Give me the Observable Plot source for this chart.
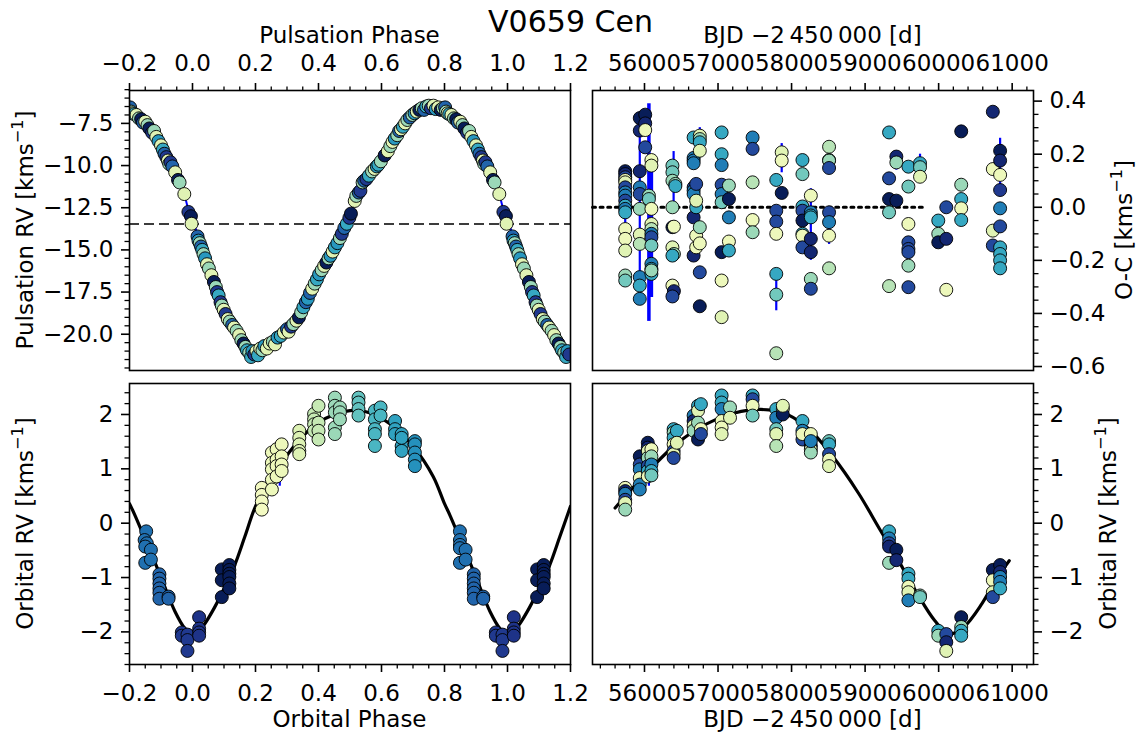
<!DOCTYPE html>
<html><head><meta charset="utf-8">
<script src="https://cdn.jsdelivr.net/npm/d3@7"></script>
<script src="https://cdn.jsdelivr.net/npm/@observablehq/plot@0.6"></script>
<style>
body{margin:0;background:#fff;}
#wrap{position:relative;width:1141px;height:732px;overflow:hidden;background:#fff;}
</style></head><body><div id="wrap"></div>
<script>
// ---------- tick labels ----------
const phaseTicks = [-0.2, 0, 0.2, 0.4, 0.6, 0.8, 1.0, 1.2];
const pulsRVTicks = [-20, -17.5, -15, -12.5, -10, -7.5];
const bjdTicks = [56000, 57000, 58000, 59000, 60000, 61000];
const ocTicks = [-0.6, -0.4, -0.2, 0, 0.2, 0.4];
const orbRVTicks = [-2, -1, 0, 1, 2];

// ---------- texts ----------
const titleText = "V0659 Cen";
const topLeftLabel = "Pulsation Phase";
const bottomLeftLabel = "Orbital Phase";
const bjdLabel = "BJD \u22122\u2009450\u2009000 [d]";

// ---------- top-left: pulsation phase vs pulsation RV [phase, RV, colour value] ----------
const pulsPoints = [
[-0.198,-6.55,.68],[-0.195,-6.8,.3],[-0.19,-6.9,.15],[-0.185,-6.95,.5],[-0.178,-7.0,.15],[-0.17,-7.2,.3],[-0.163,-7.25,.95],[-0.157,-7.45,.68],[-0.15,-7.4,.15],[-0.143,-7.6,.3],[-0.137,-7.8,.95],[-0.128,-8.05,.8],[-0.122,-7.95,.3],[-0.115,-8.3,.15],[-0.108,-8.55,.55],[-0.1,-8.8,.15],[-0.094,-9.05,.5],[-0.089,-9.3,.68],[-0.083,-9.5,.8],[-0.078,-9.7,.15],[-0.074,-9.9,.3],[-0.07,-9.8,.8],[-0.064,-10.05,.68],[-0.055,-10.4,.15],[-0.046,-10.85,.95],[-0.041,-11.0,.3],[-0.026,-11.69,.15],[-0.013,-12.75,.8],[-0.005,-13.0,.95],[-0.003,-13.45,.15],
[0.016,-14.2,.68],[0.019,-14.45,.55],[0.023,-14.6,.3],[0.027,-14.8,.68],[0.031,-15.0,.5],[0.035,-15.25,.3],[0.04,-15.5,.55],[0.046,-15.85,.15],[0.052,-16.1,.3],[0.06,-16.5,.15],[0.068,-16.9,.95],[0.074,-17.2,.3],[0.078,-17.5,.8],[0.083,-17.7,.5],[0.089,-18.1,.8],[0.093,-18.3,.3],[0.099,-18.55,.15],[0.105,-18.8,.8],[0.112,-19.1,.15],[0.118,-19.25,.3],[0.126,-19.45,.68],[0.132,-19.6,.15],[0.14,-19.8,.3],[0.148,-20.05,.15],[0.155,-20.35,.3],[0.162,-20.55,.95],[0.168,-20.75,.3],[0.173,-20.95,.5],[0.18,-21.1,.3],[0.186,-21.35,.5],[0.19,-21.0,.55],[0.196,-21.2,.8],[0.203,-21.0,.15],[0.208,-21.25,.5],
[0.215,-20.85,.15],[0.222,-20.95,.3],[0.228,-20.7,.55],[0.236,-20.85,.15],[0.245,-20.55,.15],[0.255,-20.45,.3],[0.262,-20.6,.15],[0.27,-20.2,.55],[0.28,-20.1,.5],[0.29,-19.9,.15],[0.3,-19.7,.68],[0.305,-19.85,.15],[0.313,-19.55,.8],[0.32,-19.4,.3],[0.33,-19.2,.15],[0.338,-19.0,.95],[0.345,-18.7,.3],[0.352,-18.4,.5],[0.36,-18.1,.68],[0.366,-17.9,.55],[0.373,-17.55,.68],[0.38,-17.3,.15],[0.388,-17.0,.3],[0.395,-16.75,.5],[0.402,-16.45,.55],[0.41,-16.2,.3],[0.418,-15.95,.15],[0.425,-15.75,.95],[0.432,-15.5,.3],[0.438,-15.35,.55],[0.445,-15.1,.15],[0.452,-14.85,.5],[0.46,-14.6,.55],[0.468,-14.3,.3],[0.474,-14.05,.8],[0.482,-13.7,.68],[0.49,-13.45,.5],[0.498,-13.1,.8],[0.503,-12.85,.95],
[0.515,-12.1,.15],[0.52,-11.8,.3],[0.528,-11.6,.68],[0.533,-11.5,.8],[0.54,-11.0,.3],[0.545,-10.9,.68],[0.552,-10.8,.8],[0.56,-10.6,.5],[0.57,-10.35,.3],[0.578,-10.2,.15],[0.585,-10.05,.55],[0.59,-9.95,.5],[0.598,-9.75,.3],[0.61,-9.4,.95],[0.62,-9.15,.15],[0.628,-8.85,.3],[0.635,-8.6,.15],[0.642,-8.4,.55],[0.65,-8.2,.3],[0.656,-7.95,.68],[0.662,-7.85,.15],[0.668,-7.7,.5],[0.675,-7.5,.15],[0.682,-7.3,.3],[0.69,-7.15,.68],[0.698,-7.0,.3],[0.705,-6.9,.55],[0.712,-6.8,.15],[0.72,-6.7,.95],[0.728,-6.6,.3],[0.735,-6.7,.68],[0.742,-6.5,.5],[0.75,-6.45,.3],[0.757,-6.6,.8],[0.765,-6.45,.15],[0.772,-6.65,.55],[0.78,-6.55,.15],[0.788,-6.7,.95],[0.795,-6.6,.3],
[0.802,-6.55,.68],[0.805,-6.8,.3],[0.81,-6.9,.15],[0.815,-6.95,.5],[0.822,-7.0,.15],[0.83,-7.2,.3],[0.837,-7.25,.95],[0.843,-7.45,.68],[0.85,-7.4,.15],[0.857,-7.6,.3],[0.863,-7.8,.95],[0.872,-8.05,.8],[0.878,-7.95,.3],[0.885,-8.3,.15],[0.892,-8.55,.55],[0.9,-8.8,.15],[0.906,-9.05,.5],[0.911,-9.3,.68],[0.917,-9.5,.8],[0.922,-9.7,.15],[0.926,-9.9,.3],[0.93,-9.8,.8],[0.936,-10.05,.68],[0.945,-10.4,.15],[0.954,-10.85,.95],[0.959,-11.0,.3],[0.974,-11.69,.15],[0.987,-12.75,.8],[0.995,-13.0,.95],[0.997,-13.45,.15],
[1.016,-14.2,.68],[1.019,-14.45,.55],[1.023,-14.6,.3],[1.027,-14.8,.68],[1.031,-15.0,.5],[1.035,-15.25,.3],[1.04,-15.5,.55],[1.046,-15.85,.15],[1.052,-16.1,.3],[1.06,-16.5,.15],[1.068,-16.9,.95],[1.074,-17.2,.3],[1.078,-17.5,.8],[1.083,-17.7,.5],[1.089,-18.1,.8],[1.093,-18.3,.3],[1.099,-18.55,.15],[1.105,-18.8,.8],[1.112,-19.1,.15],[1.118,-19.25,.3],[1.126,-19.45,.68],[1.132,-19.6,.15],[1.14,-19.8,.3],[1.148,-20.05,.15],[1.155,-20.35,.3],[1.162,-20.55,.95],[1.168,-20.75,.3],[1.173,-20.95,.5],[1.18,-21.1,.3],[1.186,-21.35,.5],[1.19,-21.0,.55],[1.196,-21.2,.8]
];
const pulsModel = [[-0.2,-6.55],[-0.177,-6.9],[-0.15,-7.3],[-0.118,-7.85],[-0.103,-8.5],[-0.082,-9.38],[-0.066,-9.97],[-0.039,-10.96],[-0.026,-11.69],[-0.013,-12.6],[0.001,-13.2],[0.019,-14.3],[0.035,-15.2],[0.047,-15.9],[0.069,-16.95],[0.082,-17.68],[0.093,-18.2],[0.114,-19.06],[0.138,-19.71],[0.162,-20.4],[0.178,-20.84],[0.199,-21.05],[0.227,-20.8],[0.257,-20.45],[0.289,-19.95],[0.315,-19.5],[0.341,-18.9],[0.373,-17.58],[0.405,-16.39],[0.437,-15.4],[0.46,-14.61],[0.474,-14.02],[0.5,-13.03],[0.521,-11.9],[0.553,-10.86],[0.585,-10.07],[0.611,-9.38],[0.637,-8.6],[0.664,-7.8],[0.69,-7.15],[0.722,-6.71],[0.749,-6.5],[0.786,-6.61],[0.823,-6.9],[0.85,-7.3],[0.882,-7.85],[0.897,-8.5],[0.918,-9.38],[0.934,-9.97],[0.961,-10.96],[0.974,-11.69],[0.987,-12.6],[1.001,-13.2],[1.019,-14.3],[1.035,-15.2],[1.047,-15.9],[1.069,-16.95],[1.082,-17.68],[1.093,-18.2],[1.114,-19.06],[1.138,-19.71],[1.162,-20.4],[1.178,-20.84],[1.2,-21.05]];
const pulsMean = [-13.47];

// ---------- top-right: O-C vs BJD [BJD, O-C, colour value] ----------
const ocPoints = [
[55738,0.136,.95],[55738,0.125,.87],[55738,0.113,.75],[55738,0.103,.1],[55738,0.094,.15],[55738,0.075,.75],[55738,0.056,.62],[55738,0.044,.62],[55738,0.025,.75],[55738,0.006,.5],[55738,-0.006,.62],[55738,-0.019,.5],[55738,-0.082,.1],[55738,-0.119,.1],[55738,-0.163,.15],[55738,-0.257,.3],[55738,-0.276,.37],
[55936,0.336,.95],[55936,0.289,.87],[55936,0.136,.87],[55936,0.075,.62],[55936,0.05,.75],[55936,-0.006,.3],[55936,-0.103,.15],[55936,-0.138,.25],[55936,-0.263,.62],[55936,-0.295,.5],[55936,-0.345,.62],
[56010,0.349,.95],[56010,0.316,.87],[56010,0.291,.1],[56010,0.226,.75],[56060,0.044,.3],[56060,0.031,.37],
[56094,0.178,.1],[56094,0.157,.15],[56094,-0.006,.1],[56094,-0.063,.15],[56094,-0.082,.25],[56094,-0.1,.62],[56094,-0.113,.75],[56094,-0.144,.37],[56094,-0.213,.62],[56094,-0.232,.5],[56094,-0.251,.5],[56094,-0.238,.3],
[56380,0.157,.37],[56380,0.132,.37],[56380,0.1,.3],[56420,0.088,.3],[56420,0.08,.5],[56380,0.0,.3],[56380,-0.075,.95],[56400,-0.073,.1],[56380,-0.151,.15],[56400,-0.176,.3],[56380,-0.182,.5],[56380,-0.295,.1],[56400,-0.316,.87],[56380,-0.336,.75],
[56668,0.263,.5],[56668,0.186,.62],[56668,0.176,.62],[56668,0.166,.62],[56668,0.075,.75],[56668,0.063,.62],[56668,0.05,.62],[56668,-0.038,.87],[56668,-0.182,.87],
[56703,0.088,.75],[56703,0.0,.5],[56703,0.025,.15],[56703,-0.151,.1],[56703,-0.107,.1],
[56752,0.27,.15],[56752,0.257,.3],[56752,0.245,.5],[56752,0.213,.15],[56752,-0.075,.3],[56752,-0.136,.1],[56752,-0.245,.75],[56752,-0.373,.95],
[57049,0.282,.5],[57049,0.2,.5],[57049,0.159,.62],[57049,0.085,.75],[57049,0.05,.62],[57049,0.019,.37],[57049,-0.169,.95],[57049,-0.276,.1],[57049,-0.414,.15],
[57148,0.082,.3],[57148,0.031,.95],[57148,-0.038,.62],[57148,-0.129,.1],[57148,-0.163,.5],
[57470,0.263,.62],[57470,0.22,.75],[57470,0.094,.25],[57470,-0.048,.1],[57470,-0.094,.3],
[57792,0.103,.5],[57792,-0.013,.75],[57792,-0.054,.75],[57792,-0.1,.1],[57792,-0.251,.5],[57792,-0.329,.37],[57792,-0.55,.25],
[57866,0.207,.15],[57866,0.176,.1],[57866,0.054,.95],
[58148,0.178,.5],[58148,0.125,.37],[58148,0.003,.5],[58148,-0.013,.75],[58148,-0.05,.95],[58148,-0.1,.5],[58148,-0.107,.1],[58148,-0.151,.75],
[58262,0.044,.1],[58262,-0.019,.62],[58262,-0.031,.5],[58262,-0.038,.5],[58262,-0.119,.87],[58262,-0.169,.87],[58262,-0.27,.3],[58262,-0.307,.75],
[58510,0.228,.25],[58510,0.178,.37],[58510,0.176,.3],[58510,0.148,.75],[58510,-0.019,.75],[58510,-0.056,.62],[58510,-0.107,.1],[58510,-0.23,.25],
[59326,0.282,.5],[59326,0.109,.75],[59326,0.031,.95],[59326,-0.019,.37],[59326,-0.297,.25],
[59425,0.191,.87],[59425,0.169,.3],[59425,0.025,.95],
[59589,0.153,.5],[59589,0.078,.37],[59589,-0.063,.1],[59589,-0.132,.75],[59589,-0.157,.75],[59589,-0.169,.75],[59589,-0.22,.3],[59589,-0.301,.75],
[59747,0.166,.5],[59747,0.151,.37],[59747,0.115,.15],
[59995,-0.05,.5],[59995,-0.1,.3],[59995,-0.132,.95],
[60104,0.0,.75],[60104,-0.119,.87],[60104,-0.311,.1],
[60307,0.286,.95],[60307,0.085,.3],[60307,0.031,.5],[60307,-0.004,.1],[60307,-0.048,.5],
[60737,0.36,.87],[60737,0.144,.1],[60737,-0.088,.15],[60737,-0.144,.75],
[60836,0.213,.95],[60836,0.176,.87],[60836,0.122,.1],[60836,0.065,.8],[60836,-0.004,.62],[60836,-0.072,.75],[60836,-0.151,.5],[60836,-0.176,.5],[60836,-0.2,.5],[60836,-0.23,.5]
];
const ocErrThin = [[55738,-0.19,0.14],[55936,-0.37,0.36],[56396,0.02,0.21],[56396,-0.36,-0.29],[56752,0.2,0.3],[57792,-0.39,-0.27],[57866,0.13,0.24],[58262,-0.2,0.07],[58510,-0.14,-0.05],[59425,0.14,0.21],[59747,0.11,0.2],[60836,0.04,0.26],[60737,0.34,0.38]];
const ocErrThick = [[56060,-0.43,0.39],[56094,-0.34,0.15]];
const ocZero = [[55293,0],[59820,0]];

// ---------- bottom-left: orbital phase vs orbital RV [phase, RV, colour value] ----------
const orbPoints = [
[-0.147,-0.15,.65],[-0.152,-0.31,.65],[-0.145,-0.37,.65],[-0.15,-0.43,.65],[-0.132,-0.49,.65],[-0.15,-0.73,.65],[-0.132,-0.67,.65],
[-0.105,-0.94,.68],[-0.105,-1.02,.68],[-0.105,-1.11,.68],[-0.105,-1.2,.68],[-0.105,-1.28,.68],[-0.105,-1.39,.68],[-0.076,-1.35,.68],[-0.076,-1.39,.68],
[-0.034,-2.01,.8],[-0.034,-2.07,.8],[-0.016,-2.05,.8],[-0.016,-2.15,.8],[-0.016,-2.35,.8],
[0.021,-1.73,.82],[0.021,-1.94,.82],[0.021,-2.01,.82],[0.021,-2.07,.82],
[0.093,-0.85,.95],[0.093,-1.05,.95],[0.093,-1.36,.95],[0.117,-0.77,.97],[0.117,-0.86,.97],[0.117,-0.93,.97],[0.117,-0.99,.97],[0.117,-1.11,.97],[0.117,-1.2,.97],
[0.22,0.65,.07],[0.22,0.52,.07],[0.22,0.4,.07],[0.22,0.25,.07],
[0.252,1.3,.1],[0.252,1.11,.1],[0.252,0.99,.1],[0.252,0.8,.1],[0.252,0.62,.1],[0.267,1.36,.1],[0.267,1.17,.1],[0.267,1.05,.1],[0.267,0.86,.1],[0.283,1.45,.1],[0.283,1.23,.1],[0.283,1.08,.1],[0.283,0.96,.1],
[0.339,1.7,.16],[0.339,1.57,.16],[0.339,1.45,.16],[0.339,1.33,.16],[0.339,1.27,.16],
[0.386,2.01,.22],[0.386,1.91,.22],[0.386,1.82,.22],[0.386,1.7,.22],[0.4,2.16,.22],[0.4,1.85,.22],[0.4,1.7,.22],[0.4,1.54,.22],
[0.452,2.31,.3],[0.452,2.16,.3],[0.452,2.04,.3],[0.452,1.76,.3],[0.452,1.64,.3],[0.468,2.13,.3],[0.468,2.04,.3],[0.468,1.91,.3],
[0.527,2.31,.4],[0.527,2.22,.4],[0.527,2.1,.4],[0.527,1.98,.4],
[0.579,2.07,.45],[0.579,1.91,.45],[0.579,1.73,.45],[0.579,1.64,.45],[0.579,1.42,.45],[0.597,2.13,.45],[0.597,1.98,.45],
[0.643,1.88,.52],[0.643,1.73,.52],[0.643,1.64,.52],[0.664,1.64,.52],[0.664,1.42,.52],[0.664,1.33,.52],[0.664,1.57,.52],
[0.706,1.51,.57],[0.706,1.45,.57],[0.706,1.3,.57],[0.706,1.17,.57],[0.706,1.05,.57],
[0.849,-0.15,.65],[0.849,-0.31,.65],[0.849,-0.4,.65],[0.849,-0.46,.65],[0.849,-0.73,.65],[0.867,-0.49,.65],[0.867,-0.67,.65],
[0.893,-0.94,.68],[0.893,-1.02,.68],[0.893,-1.11,.68],[0.893,-1.2,.68],[0.893,-1.28,.68],[0.893,-1.39,.68],[0.923,-1.35,.68],[0.923,-1.39,.68],
[0.963,-2.01,.8],[0.963,-2.07,.8],[0.984,-2.05,.8],[0.984,-2.15,.8],[0.984,-2.35,.8],
[1.02,-1.73,.82],[1.02,-1.94,.82],[1.02,-2.01,.82],[1.02,-2.07,.82],
[1.094,-0.85,.95],[1.094,-1.05,.95],[1.094,-1.36,.95],[1.115,-0.77,.97],[1.115,-0.86,.97],[1.115,-0.93,.97],[1.115,-0.99,.97],[1.115,-1.11,.97],[1.115,-1.2,.97]
];
const orbPhaseModel = [[-0.2,0.36],[-0.183,0.15],[-0.15,-0.3],[-0.103,-0.95],[-0.056,-1.62],[-0.024,-1.94],[-0.005,-2.04],[0.018,-2.0],[0.039,-1.85],[0.071,-1.54],[0.103,-1.17],[0.134,-0.77],[0.166,-0.25],[0.2,0.31],[0.25,0.85],[0.3,1.25],[0.35,1.6],[0.4,1.85],[0.45,2.0],[0.5,2.07],[0.55,2.05],[0.6,1.93],[0.65,1.72],[0.7,1.42],[0.764,0.86],[0.8,0.36],[0.817,0.15],[0.85,-0.3],[0.897,-0.95],[0.944,-1.62],[0.976,-1.94],[0.995,-2.04],[1.018,-2.0],[1.039,-1.85],[1.071,-1.54],[1.103,-1.17],[1.134,-0.77],[1.166,-0.25],[1.2,0.31]];
const orbPhaseErr = [[0.277,0.68,0.76]];

// ---------- bottom-right: BJD vs orbital RV [BJD, RV, colour value] ----------
const timePoints = [
[55738,0.65,.1],[55738,0.59,.87],[55738,0.54,.62],[55738,0.43,.75],[55738,0.37,.15],[55738,0.25,.3],
[55936,1.23,.95],[55936,1.08,.75],[55936,0.99,.62],[55936,0.83,.1],[55936,0.71,.62],[55936,0.62,.62],
[56045,1.48,.95],[56045,1.39,.87],[56045,1.33,.15],[56045,1.2,.3],[56045,1.05,.75],[56045,0.96,.5],[56045,0.86,.1],
[56094,1.36,.1],[56094,1.23,.3],[56094,1.08,.62],[56094,0.96,.5],[56094,0.88,.37],
[56396,1.73,.5],[56396,1.67,.3],[56396,1.57,.5],[56396,1.45,.1],[56396,1.33,.75],[56396,1.27,.15],[56396,1.2,.75],[56440,1.7,.5],[56440,1.48,.15],
[56668,1.98,.62],[56668,1.88,.87],[56668,1.79,.15],[56668,1.7,.3],[56728,2.16,.5],[56728,2.07,.15],[56728,1.85,.3],[56728,1.54,.95],[56767,2.19,.5],[56767,1.73,.1],[56767,1.64,.75],
[57049,2.35,.5],[57049,2.22,.5],[57049,2.1,.62],[57049,1.88,.1],[57049,1.76,.1],[57049,1.64,.15],[57163,2.13,.3],[57163,1.94,.15],
[57470,2.35,.5],[57470,2.28,.75],[57470,2.16,.1],[57470,1.98,.37],
[57792,2.1,.5],[57792,1.94,.62],[57792,1.73,.37],[57792,1.64,.15],[57792,1.42,.25],[57881,2.1,.1],[57881,2.0,.95],[57881,2.16,.15],
[58148,1.88,.5],[58148,1.7,.62],[58148,1.54,.75],[58148,1.64,.1],[58262,1.64,.1],[58262,1.42,.87],[58262,1.36,.15],[58262,1.3,.3],[58262,1.51,.62],
[58510,1.51,.37],[58510,1.45,.5],[58510,1.27,.75],[58510,1.17,.1],[58510,1.05,.15],
[59326,-0.15,.5],[59326,-0.28,.62],[59326,-0.37,.75],[59326,-0.43,.87],[59326,-0.73,.3],[59425,-0.49,.95],[59425,-0.68,.87],
[59589,-0.93,.5],[59589,-1.02,.5],[59589,-1.17,.1],[59589,-1.27,.15],[59589,-1.42,.62],[59747,-1.33,.3],[59747,-1.36,.37],
[59995,-1.98,.5],[59995,-2.07,.3],[60104,-2.04,.75],[60104,-2.19,.87],[60104,-2.35,.15],
[60307,-1.73,.95],[60307,-1.91,.3],[60307,-1.98,.5],[60307,-2.07,.5],
[60737,-0.86,.95],[60737,-1.05,.1],[60737,-1.27,.15],[60737,-1.36,.75],[60836,-0.77,.95],[60836,-0.9,.87],[60836,-0.99,.62],[60836,-1.08,.62],[60836,-1.2,.5]
];
const orbTimeModel = [[55600,0.28],[55985,0.86],[56480,1.51],[56975,1.91],[57420,2.08],[57866,2.04],[58213,1.76],[58559,1.23],[58906,0.56],[59203,-0.12],[59450,-0.68],[59698,-1.27],[59946,-1.79],[60144,-2.04],[60342,-1.91],[60589,-1.48],[60787,-1.02],[60960,-0.69]];
const orbTimeErr = [[56060,0.68,0.76]];

// ---------- drawing ----------
const wrap = document.getElementById("wrap");
const FS = 23;
const styleOpt = {fontFamily: "DejaVu Sans", fontSize: FS + "px", background: "none", overflow: "visible", color: "black"};
const colorOpt = {type: "linear", scheme: "YlGnBu", domain: [0, 0.92], clamp: true};
const dotOpt = {x: d => d[0], y: d => d[1], fill: d => d[2], r: 6.5, stroke: "black", strokeWidth: 0.9, clip: true};
const f1 = d3.format(".1f"), f0 = d3.format("d");

const phaseMinor = d3.range(-20, 121, 5).filter(v => v % 20 !== 0).map(v => v / 100);
const pulsMinor = d3.range(-44, -10, 1).filter(v => v % 5 !== 0).map(v => v / 2);
const bjdMinor = d3.range(55400, 61300, 200).filter(v => v % 1000 !== 0);
const ocMinor = d3.range(-60, 45, 5).filter(v => v % 20 !== 0).map(v => v / 100);
const orbMinor = d3.range(-13, 13, 1).filter(v => v % 5 !== 0).map(v => v / 5);

function axes(xMaj, xMin, xFmt, xAnchor, yMaj, yMin, yFmt, yAnchor) {
  return [
    Plot.axisX(xMaj, {anchor: xAnchor, tickSize: 8, tickPadding: 12, tickFormat: xFmt, strokeWidth: 1.6, label: null}),
    Plot.axisX(xMin, {anchor: xAnchor, tickSize: 4.5, tickPadding: 0, tickFormat: () => "", strokeWidth: 1.3, label: null}),
    Plot.axisY(yMaj, {anchor: yAnchor, tickSize: 8, tickPadding: 8, tickFormat: yFmt, strokeWidth: 1.6, label: null}),
    Plot.axisY(yMin, {anchor: yAnchor, tickSize: 4.5, tickPadding: 0, tickFormat: () => "", strokeWidth: 1.3, label: null})
  ];
}
function place(svg, left, top) {
  svg.style.position = "absolute";
  svg.style.left = left + "px";
  svg.style.top = top + "px";
  svg.style.maxWidth = "none";
  wrap.appendChild(svg);
}

// top-left
place(Plot.plot({
  width: 581, height: 376, marginLeft: 129, marginRight: 11, marginTop: 90, marginBottom: 6,
  style: styleOpt,
  x: {domain: [-0.2, 1.2]}, y: {domain: [-22.15, -5.55]}, color: colorOpt,
  marks: [
    Plot.ruleY(pulsMean, {stroke: "#3c3c3c", strokeWidth: 2, strokeDasharray: "10,5"}),
    Plot.line(pulsModel, {x: d => d[0], y: d => d[1], stroke: "blue", strokeWidth: 2, curve: "catmull-rom", clip: true}),
    Plot.dot(pulsPoints, dotOpt),
    Plot.frame({stroke: "black", strokeWidth: 1.6}),
    ...axes(phaseTicks, phaseMinor, f1, "top", pulsRVTicks, pulsMinor, f1, "left")
  ]
}), 0, 0);

// top-right
place(Plot.plot({
  width: 560, height: 376, marginLeft: 11, marginRight: 108, marginTop: 90, marginBottom: 6,
  style: styleOpt,
  x: {domain: [55293, 61290]}, y: {domain: [-0.615, 0.44]}, color: colorOpt,
  marks: [
    Plot.ruleX(ocErrThin, {x: d => d[0], y1: d => d[1], y2: d => d[2], stroke: "blue", strokeWidth: 2.2}),
    Plot.ruleX(ocErrThick, {x: d => d[0], y1: d => d[1], y2: d => d[2], stroke: "blue", strokeWidth: 3.5}),
    Plot.line(ocZero, {x: d => d[0], y: d => d[1], stroke: "black", strokeWidth: 3, strokeDasharray: "3,4.6"}),
    Plot.dot(ocPoints, dotOpt),
    Plot.frame({stroke: "black", strokeWidth: 1.6}),
    ...axes(bjdTicks, bjdMinor, f0, "top", ocTicks, ocMinor, f1, "right")
  ]
}), 581, 0);

// bottom-left
place(Plot.plot({
  width: 581, height: 356, marginLeft: 129, marginRight: 11, marginTop: 7, marginBottom: 68,
  style: styleOpt,
  x: {domain: [-0.2, 1.2]}, y: {domain: [-2.6, 2.57]}, color: colorOpt,
  marks: [
    Plot.line(orbPhaseModel, {x: d => d[0], y: d => d[1], stroke: "black", strokeWidth: 3.2, curve: "catmull-rom", clip: true}),
    Plot.ruleX(orbPhaseErr, {x: d => d[0], y1: d => d[1], y2: d => d[2], stroke: "blue", strokeWidth: 2.2}),
    Plot.dot(orbPoints, dotOpt),
    Plot.frame({stroke: "black", strokeWidth: 1.6}),
    ...axes(phaseTicks, phaseMinor, f1, "bottom", orbRVTicks, orbMinor, f0, "left")
  ]
}), 0, 376);

// bottom-right
place(Plot.plot({
  width: 560, height: 356, marginLeft: 11, marginRight: 108, marginTop: 7, marginBottom: 68,
  style: styleOpt,
  x: {domain: [55293, 61290]}, y: {domain: [-2.6, 2.57]}, color: colorOpt,
  marks: [
    Plot.line(orbTimeModel, {x: d => d[0], y: d => d[1], stroke: "black", strokeWidth: 3.2, curve: "catmull-rom"}),
    Plot.ruleX(orbTimeErr, {x: d => d[0], y1: d => d[1], y2: d => d[2], stroke: "blue", strokeWidth: 2.2}),
    Plot.dot(timePoints, dotOpt),
    Plot.frame({stroke: "black", strokeWidth: 1.6}),
    ...axes(bjdTicks, bjdMinor, f0, "bottom", orbRVTicks, orbMinor, f0, "right")
  ]
}), 581, 376);

// ---------- titles and axis labels ----------
const NS = "http://www.w3.org/2000/svg";
const over = document.createElementNS(NS, "svg");
over.setAttribute("width", 1141); over.setAttribute("height", 732);
over.style.position = "absolute"; over.style.left = "0px"; over.style.top = "0px";
over.style.fontFamily = "DejaVu Sans";
wrap.appendChild(over);
function label(parts, x, y, size, rot) {
  const t = document.createElementNS(NS, "text");
  t.setAttribute("text-anchor", "middle");
  t.setAttribute("font-size", size);
  t.setAttribute("fill", "black");
  t.setAttribute("transform", `translate(${x},${y})` + (rot ? " rotate(-90)" : ""));
  for (const p of parts) {
    const s = document.createElementNS(NS, "tspan");
    if (p.sup) { s.setAttribute("font-size", size * 0.7); s.setAttribute("dy", -size * 0.42); }
    if (p.after) s.setAttribute("dy", size * 0.42);
    s.textContent = p.t;
    t.appendChild(s);
  }
  over.appendChild(t);
}
const unitParts = (name) => [{t: name + " [kms"}, {t: "\u22121", sup: true}, {t: "]", after: true}];
label([{t: titleText}], 570.5, 32, 30, false);
label([{t: topLeftLabel}], 349.5, 43, FS, false);
label([{t: bjdLabel}], 812.5, 43, FS, false);
label([{t: bottomLeftLabel}], 349.5, 727, FS, false);
label([{t: bjdLabel}], 812.5, 727, FS, false);
label(unitParts("Pulsation RV"), 33, 230, FS, true);
label(unitParts("Orbital RV"), 33, 523.5, FS, true);
label(unitParts("O-C"), 1132, 230, FS, true);
label(unitParts("Orbital RV"), 1116, 523.5, FS, true);
</script></body></html>
